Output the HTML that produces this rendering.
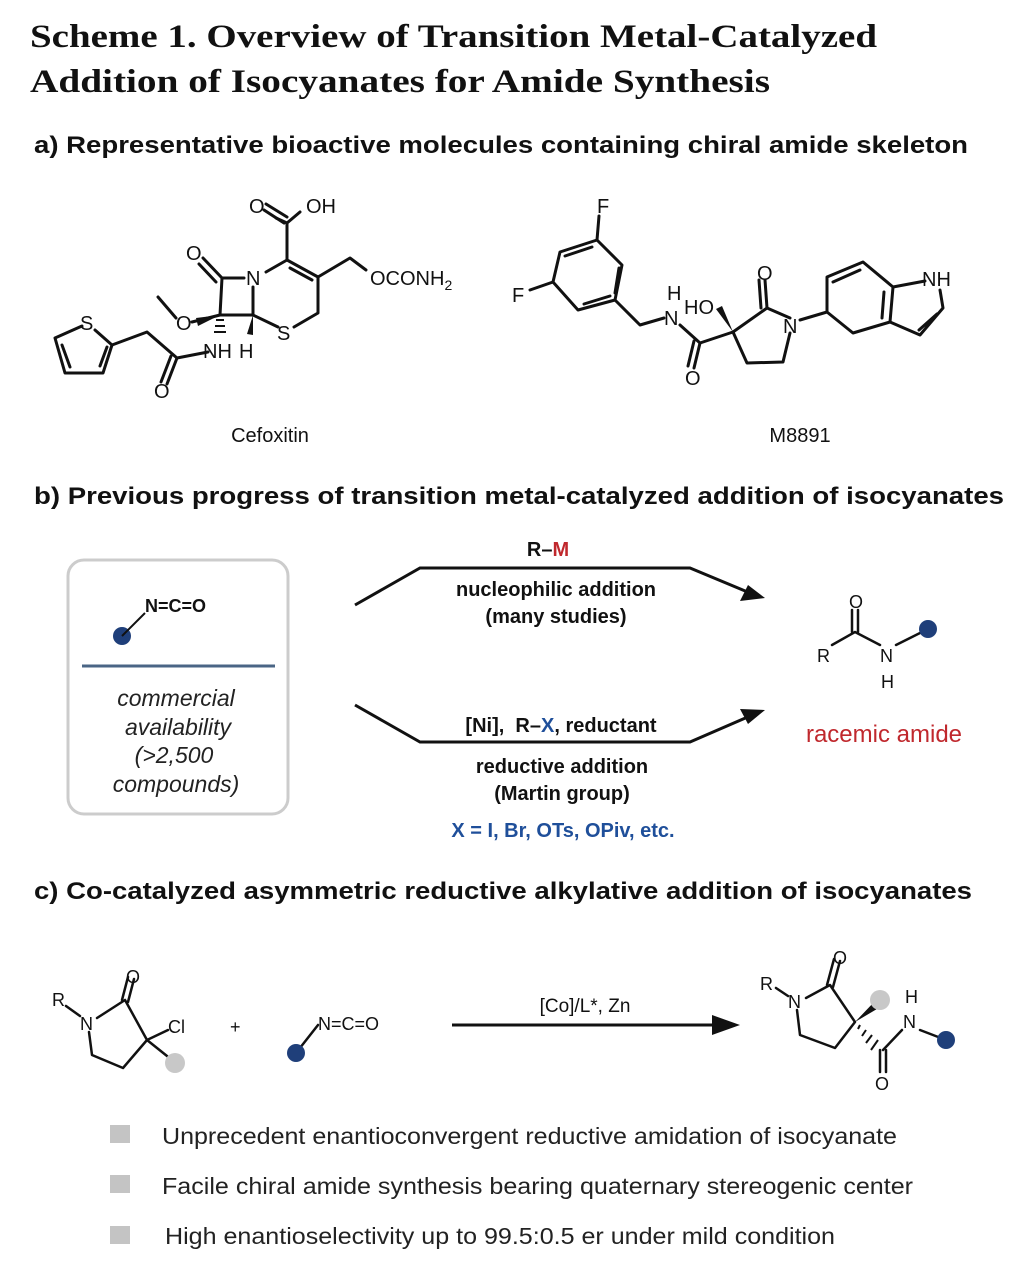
<!DOCTYPE html>
<html><head><meta charset="utf-8"><style>
html,body{margin:0;padding:0;background:#fff;}
svg{display:block;}
.t{font-family:"Liberation Serif",serif;font-size:33px;font-weight:bold;fill:#111;}
.h{font-family:"Liberation Sans",sans-serif;font-size:24px;font-weight:bold;fill:#111;}
.a{font-family:"Liberation Sans",sans-serif;font-size:20px;font-weight:bold;fill:#111;}
.l{font-family:"Liberation Sans",sans-serif;font-size:20px;fill:#111;}
.i{font-family:"Liberation Sans",sans-serif;font-size:23px;font-style:italic;fill:#222;}
.b{font-family:"Liberation Sans",sans-serif;font-size:23px;fill:#222;}
.m{stroke:#111;stroke-width:3;fill:none;stroke-linecap:round;stroke-linejoin:round;}
</style></head><body>
<svg width="1026" height="1266" viewBox="0 0 1026 1266" xmlns="http://www.w3.org/2000/svg">
<text class="t" x="30" y="47" textLength="847" lengthAdjust="spacingAndGlyphs">Scheme 1. Overview of Transition Metal-Catalyzed</text>
<text class="t" x="30" y="92" textLength="740" lengthAdjust="spacingAndGlyphs">Addition of Isocyanates for Amide Synthesis</text>
<text class="h" x="34" y="153" textLength="934" lengthAdjust="spacingAndGlyphs">a) Representative bioactive molecules containing chiral amide skeleton</text>

<!-- Cefoxitin -->
<g class="m">
<path d="M276,218 L287,223 L300,212"/>
<path d="M264,210 L284,223 M266,204 L287,217"/>
<path d="M287,223 L287,260"/>
<path d="M287,260 L266,272"/>
<path d="M287,260 L318,277 M290,268 L312,280"/>
<path d="M318,277 L350,258 L366,270"/>
<path d="M318,277 L318,313 L294,327"/>
<path d="M278,327 L253,315"/>
<path d="M253,315 L253,287"/>
<path d="M244,278 L222,278 L220,315 L253,315"/>
<path d="M222,278 L203,258 M216,282 L199,264"/>
<path d="M220,315 L192,322"/>
<path d="M176,318 L158,297"/>
<path d="M208,352 L177,358 L147,332 L112,345"/>
<path d="M177,358 L167,384 M171,356 L161,382"/>
<path d="M112,345 L95,330 M82,326 L55,338 L65,373 L103,373 L112,345"/>
<path d="M62,345 L70,367 M100,366 L107,347"/>
</g>
<polygon points="220,315 196,318 198,326" fill="#111"/>
<polygon points="253,315 247,334 253,335" fill="#111"/>
<g stroke="#111" stroke-width="2"><line x1="216" y1="320" x2="224" y2="320"/><line x1="215" y1="326" x2="225" y2="326"/><line x1="214" y1="332" x2="226" y2="332"/></g>
<g class="l">
<text x="249" y="213">O</text><text x="306" y="213">OH</text>
<text x="186" y="260">O</text>
<text x="246" y="285">N</text>
<text x="370" y="285">OCONH<tspan dy="5" style="font-size:14px">2</tspan></text>
<text x="277" y="340">S</text>
<text x="176" y="330">O</text>
<text x="203" y="358">NH</text><text x="239" y="358">H</text>
<text x="154" y="398">O</text>
<text x="80" y="330">S</text>
</g>
<text class="l" x="270" y="442" text-anchor="middle">Cefoxitin</text>

<!-- M8891 -->
<g class="m">
<path d="M597,240 L560,252 L553,282 L578,310 L615,300 L622,265 Z"/>
<path d="M599,216 L597,240"/>
<path d="M592,247 L565,256 M584,304 L610,296 M615,293 L619,268"/>
<path d="M553,282 L530,290"/>
<path d="M615,300 L640,325 L664,318"/>
<path d="M680,325 L700,343 L733,332"/>
<path d="M700,343 L694,368 M694,341 L688,366"/>
<path d="M733,332 L767,308 L790,318"/>
<path d="M767,308 L765,280 M761,308 L759,280"/>
<path d="M790,333 L783,362 L747,363 L733,332"/>
<path d="M800,320 L827,312 L827,277 L863,262 L893,287 L890,322 L853,333 L827,312"/>
<path d="M833,282 L860,270 M884,292 L882,318"/>
<path d="M893,287 L925,281 M940,290 L943,308 L920,335 L890,322 M937,314 L919,330"/>
</g>
<polygon points="733,332 716,309 722,306" fill="#111"/>
<g class="l">
<text x="597" y="213">F</text><text x="512" y="302">F</text>
<text x="667" y="300">H</text><text x="664" y="325">N</text>
<text x="684" y="314">HO</text>
<text x="685" y="385">O</text>
<text x="757" y="280">O</text>
<text x="783" y="333">N</text>
<text x="922" y="286">NH</text>
</g>
<text class="l" x="800" y="442" text-anchor="middle">M8891</text>

<text class="h" x="34" y="504" textLength="970" lengthAdjust="spacingAndGlyphs">b) Previous progress of transition metal-catalyzed addition of isocyanates</text>
<rect x="68" y="560" width="220" height="254" rx="16" fill="none" stroke="#ccc" stroke-width="3"/>
<circle cx="122" cy="636" r="9" fill="#1f3f7a"/>
<line x1="122" y1="636" x2="145" y2="613" stroke="#111" stroke-width="2"/>
<text class="a" x="145" y="612" style="font-size:18px">N=C=O</text>
<line x1="82" y1="666" x2="275" y2="666" stroke="#4a6585" stroke-width="3"/>
<g class="i" text-anchor="middle">
<text x="176" y="706">commercial</text><text x="178" y="735">availability</text>
<text x="174" y="763">(&gt;2,500</text><text x="176" y="792">compounds)</text>
</g>
<path d="M355,605 L420,568 L690,568 L750,593" stroke="#111" stroke-width="3" fill="none"/>
<polygon points="765,598 740,601 748,585" fill="#111"/>
<path d="M355,705 L420,742 L690,742 L750,716" stroke="#111" stroke-width="3" fill="none"/>
<polygon points="765,710 748,724 740,709" fill="#111"/>
<text class="a" x="548" y="556" text-anchor="middle">R<tspan>–</tspan><tspan style="fill:#c0282d">M</tspan></text>
<text class="a" x="556" y="596" text-anchor="middle">nucleophilic addition</text>
<text class="a" x="556" y="623" text-anchor="middle">(many studies)</text>
<text class="a" x="561" y="732" text-anchor="middle">[Ni],&#160; R–<tspan style="fill:#1f4f9a">X</tspan>, reductant</text>
<text class="a" x="562" y="773" text-anchor="middle">reductive addition</text>
<text class="a" x="562" y="800" text-anchor="middle">(Martin group)</text>
<text class="a" x="563" y="837" text-anchor="middle" style="fill:#1f4f9a">X = I, Br, OTs, OPiv, etc.</text>
<g class="m" style="stroke-width:2.5">
<path d="M832,645 L855,632 L880,645"/>
<path d="M852,632 L852,610 M858,632 L858,610"/>
<path d="M896,645 L928,629"/>
</g>
<circle cx="928" cy="629" r="9" fill="#1f3f7a"/>
<g class="l" style="font-size:18px">
<text x="817" y="662">R</text><text x="849" y="608">O</text><text x="880" y="662">N</text><text x="881" y="688">H</text>
</g>
<text class="b" x="884" y="742" text-anchor="middle" style="font-size:24px;fill:#c0282d">racemic amide</text>

<text class="h" x="34" y="899" textLength="938" lengthAdjust="spacingAndGlyphs">c) Co-catalyzed asymmetric reductive alkylative addition of isocyanates</text>
<g class="m" style="stroke-width:2.5">
<path d="M66,1006 L80,1016"/>
<path d="M97,1018 L125,1000 L147,1040 L123,1068 L92,1055 L89,1032"/>
<path d="M122,1000 L128,977 M128,1002 L134,979"/>
<path d="M147,1040 L168,1030"/>
<path d="M147,1040 L172,1060"/>
<path d="M296,1053 L318,1025"/>
<path d="M776,988 L788,996"/>
<path d="M806,998 L830,985 L855,1022 L835,1048 L800,1035 L797,1010"/>
<path d="M827,985 L834,959 M833,987 L840,961"/>
<path d="M880,1050 L880,1072 M886,1050 L886,1072"/>
<path d="M883,1050 L902,1030"/>
<path d="M920,1030 L946,1040"/>
</g>
<circle cx="175" cy="1063" r="10" fill="#c8c8c8"/>
<circle cx="296" cy="1053" r="9" fill="#1f3f7a"/>
<polygon points="855,1022 876,1000 882,1006" fill="#111"/>
<circle cx="880" cy="1000" r="10" fill="#c8c8c8"/>
<g stroke="#111" stroke-width="2"><line x1="860" y1="1025" x2="858" y2="1029"/><line x1="866" y1="1030" x2="862" y2="1036"/><line x1="872" y1="1035" x2="866" y2="1043"/><line x1="878" y1="1040" x2="871" y2="1050"/></g>
<circle cx="946" cy="1040" r="9" fill="#1f3f7a"/>
<g class="l" style="font-size:18px">
<text x="52" y="1006">R</text><text x="80" y="1030">N</text><text x="126" y="983">O</text><text x="168" y="1033">Cl</text>
<text x="230" y="1033">+</text>
<text x="318" y="1030">N=C=O</text>
<text x="760" y="990">R</text><text x="788" y="1008">N</text><text x="833" y="964">O</text>
<text x="903" y="1028">N</text><text x="905" y="1003">H</text><text x="875" y="1090">O</text>
</g>
<line x1="452" y1="1025" x2="715" y2="1025" stroke="#111" stroke-width="3"/>
<polygon points="740,1025 712,1015 712,1035" fill="#111"/>
<text class="l" x="585" y="1012" text-anchor="middle" style="font-size:19px">[Co]/L*, Zn</text>

<rect x="110" y="1125" width="20" height="18" fill="#c4c4c4"/>
<rect x="110" y="1175" width="20" height="18" fill="#c4c4c4"/>
<rect x="110" y="1226" width="20" height="18" fill="#c4c4c4"/>
<text class="b" x="162" y="1144" textLength="735" lengthAdjust="spacingAndGlyphs">Unprecedent enantioconvergent reductive amidation of isocyanate</text>
<text class="b" x="162" y="1194" textLength="751" lengthAdjust="spacingAndGlyphs">Facile chiral amide synthesis bearing quaternary stereogenic center</text>
<text class="b" x="165" y="1244" textLength="670" lengthAdjust="spacingAndGlyphs">High enantioselectivity up to 99.5:0.5 er under mild condition</text>
</svg>
</body></html>
